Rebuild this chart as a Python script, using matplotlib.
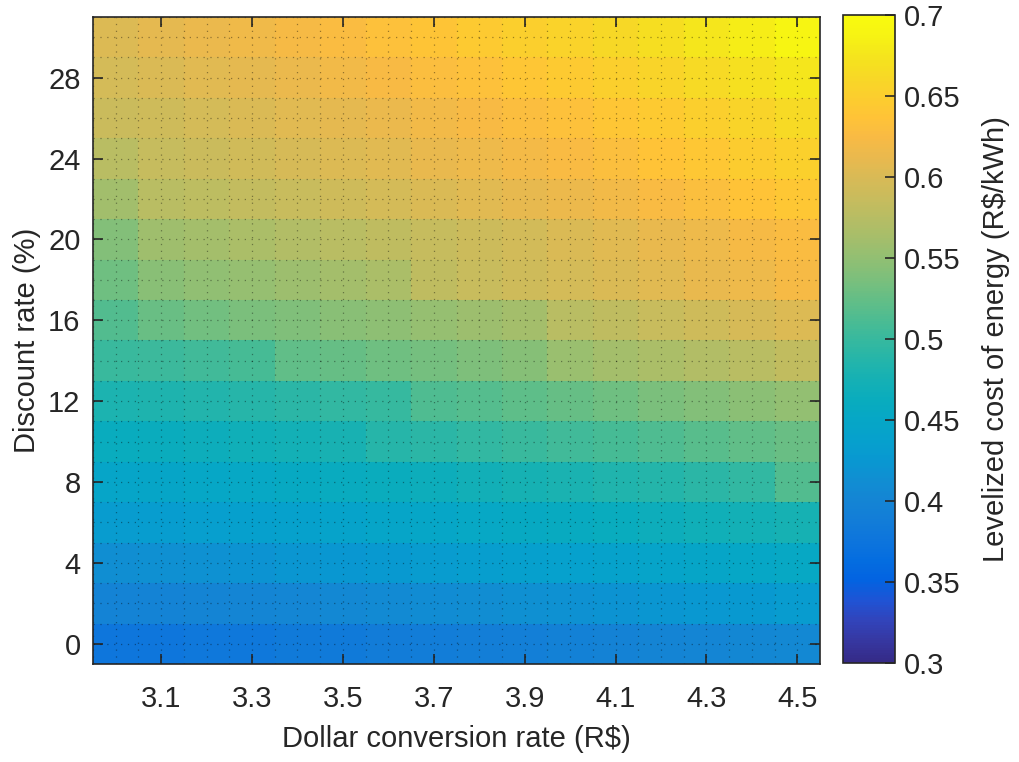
import numpy as np
import matplotlib
matplotlib.use("Agg")
import matplotlib.pyplot as plt
from matplotlib.colors import LinearSegmentedColormap

# dollar conversion rate (R$) and discount rate (%) at the cell centres
dollar_rate = [3.0, 3.1, 3.2, 3.3, 3.4, 3.5, 3.6, 3.7, 3.8, 3.9, 4.0, 4.1, 4.2, 4.3, 4.4, 4.5]
discount_rate = [0, 2, 4, 6, 8, 10, 12, 14, 16, 18, 20, 22, 24, 26, 28, 30]

# levelized cost of energy (R$/kWh), one row per discount rate
lcoe_d0 = [0.378, 0.378, 0.380, 0.380, 0.383, 0.384, 0.386, 0.388, 0.390, 0.392, 0.394, 0.396, 0.399, 0.401, 0.404, 0.406]
lcoe_d2 = [0.397, 0.397, 0.399, 0.400, 0.403, 0.405, 0.407, 0.410, 0.412, 0.415, 0.417, 0.420, 0.422, 0.425, 0.428, 0.430]
lcoe_d4 = [0.414, 0.415, 0.417, 0.419, 0.422, 0.424, 0.427, 0.430, 0.433, 0.436, 0.439, 0.442, 0.445, 0.448, 0.451, 0.454]
lcoe_d6 = [0.431, 0.432, 0.435, 0.437, 0.440, 0.443, 0.446, 0.449, 0.452, 0.456, 0.459, 0.462, 0.466, 0.469, 0.473, 0.476]
lcoe_d8 = [0.446, 0.447, 0.450, 0.453, 0.456, 0.460, 0.463, 0.467, 0.471, 0.475, 0.479, 0.483, 0.487, 0.491, 0.496, 0.515]
lcoe_d10 = [0.462, 0.464, 0.467, 0.470, 0.473, 0.477, 0.488, 0.492, 0.496, 0.500, 0.505, 0.509, 0.514, 0.518, 0.523, 0.528]
lcoe_d12 = [0.480, 0.482, 0.485, 0.488, 0.492, 0.496, 0.499, 0.513, 0.517, 0.521, 0.526, 0.531, 0.536, 0.541, 0.546, 0.551]
lcoe_d14 = [0.500, 0.502, 0.505, 0.508, 0.522, 0.526, 0.530, 0.534, 0.538, 0.543, 0.556, 0.561, 0.566, 0.571, 0.576, 0.582]
lcoe_d16 = [0.515, 0.528, 0.532, 0.536, 0.540, 0.544, 0.548, 0.552, 0.557, 0.562, 0.576, 0.581, 0.586, 0.592, 0.597, 0.603]
lcoe_d18 = [0.530, 0.545, 0.549, 0.553, 0.557, 0.561, 0.566, 0.581, 0.586, 0.591, 0.596, 0.601, 0.606, 0.612, 0.617, 0.623]
lcoe_d20 = [0.542, 0.558, 0.562, 0.566, 0.571, 0.575, 0.580, 0.585, 0.590, 0.595, 0.600, 0.605, 0.611, 0.616, 0.622, 0.628]
lcoe_d22 = [0.560, 0.575, 0.579, 0.583, 0.587, 0.591, 0.596, 0.600, 0.605, 0.610, 0.615, 0.620, 0.625, 0.631, 0.636, 0.642]
lcoe_d24 = [0.575, 0.585, 0.589, 0.593, 0.597, 0.602, 0.606, 0.611, 0.616, 0.621, 0.626, 0.631, 0.637, 0.642, 0.648, 0.653]
lcoe_d26 = [0.588, 0.592, 0.596, 0.600, 0.605, 0.609, 0.614, 0.619, 0.624, 0.629, 0.634, 0.640, 0.645, 0.651, 0.657, 0.663]
lcoe_d28 = [0.596, 0.600, 0.605, 0.609, 0.614, 0.619, 0.624, 0.629, 0.634, 0.640, 0.645, 0.651, 0.657, 0.663, 0.669, 0.675]
lcoe_d30 = [0.603, 0.608, 0.613, 0.618, 0.623, 0.628, 0.633, 0.639, 0.644, 0.650, 0.656, 0.662, 0.668, 0.675, 0.682, 0.690]

lcoe = np.array([lcoe_d0, lcoe_d2, lcoe_d4, lcoe_d6, lcoe_d8, lcoe_d10, lcoe_d12, lcoe_d14,
                 lcoe_d16, lcoe_d18, lcoe_d20, lcoe_d22, lcoe_d24, lcoe_d26, lcoe_d28, lcoe_d30])

cbar_ticks = [0.3, 0.35, 0.4, 0.45, 0.5, 0.55, 0.6, 0.65, 0.7]
cbar_labels = ['0.3', '0.35', '0.4', '0.45', '0.5', '0.55', '0.6', '0.65', '0.7']

# parula-like colormap
parula_pts = [
    (0.2081, 0.1663, 0.5292), (0.2123, 0.2138, 0.6270), (0.1959, 0.2645, 0.7279),
    (0.1253, 0.3242, 0.8303), (0.0117, 0.3875, 0.8820), (0.0165, 0.4266, 0.8786),
    (0.0498, 0.4586, 0.8641), (0.0723, 0.4887, 0.8467), (0.0793, 0.5200, 0.8312),
    (0.0641, 0.5570, 0.8240), (0.0343, 0.5966, 0.8199), (0.0239, 0.6287, 0.8038),
    (0.0228, 0.6535, 0.7768), (0.0384, 0.6743, 0.7436), (0.0843, 0.6928, 0.7062),
    (0.1453, 0.7098, 0.6646), (0.2178, 0.7250, 0.6193), (0.3022, 0.7376, 0.5712),
    (0.3953, 0.7459, 0.5244), (0.4871, 0.7491, 0.4840), (0.5709, 0.7485, 0.4494),
    (0.6473, 0.7456, 0.4188), (0.7184, 0.7411, 0.3905), (0.7858, 0.7356, 0.3633),
    (0.8507, 0.7299, 0.3360), (0.9139, 0.7258, 0.3063), (0.9739, 0.7314, 0.2666),
    (0.9990, 0.7653, 0.2164), (0.9880, 0.8066, 0.1794), (0.9697, 0.8481, 0.1475),
    (0.9589, 0.8949, 0.1132), (0.9661, 0.9514, 0.0755), (0.9763, 0.9831, 0.0538),
]
parula = LinearSegmentedColormap.from_list("parula", parula_pts, N=256)

plt.rcParams['font.family'] = ['Liberation Sans', 'DejaVu Sans']
txt = '#262626'
fs = 21

fig = plt.figure(figsize=(10.2, 7.62), dpi=100)
ax = fig.add_axes([0.0912, 0.1286, 0.7127, 0.8491])
cax = fig.add_axes([0.8265, 0.1300, 0.0510, 0.8504])

mesh = ax.pcolormesh(dollar_rate, discount_rate, lcoe, cmap=parula,
                     vmin=0.3, vmax=0.7, shading='nearest')

# dotted grid over the cells
for gx in np.arange(2.95, 4.56, 0.05):
    ax.axvline(gx, color='k', lw=0.9, alpha=0.38, linestyle=(0, (1, 4.5)), zorder=2)
for gy in range(-1, 32):
    ax.axhline(gy, color='k', lw=0.9, alpha=0.38, linestyle=(0, (1, 4.5)), zorder=2)

ax.set_xlim(2.95, 4.55)
ax.set_ylim(-1, 31)
ax.set_xticks([3.1, 3.3, 3.5, 3.7, 3.9, 4.1, 4.3, 4.5])
ax.set_yticks([0, 4, 8, 12, 16, 20, 24, 28])
ax.tick_params(direction='in', length=7, width=1.2, top=True, right=True,
               labelsize=fs, colors=txt, labelcolor=txt)
ax.tick_params(axis='x', pad=15)
ax.tick_params(axis='y', pad=9)
for s in ax.spines.values():
    s.set_color(txt)
    s.set_linewidth(1.2)
ax.set_xlabel('Dollar conversion rate (R\\$)', fontsize=fs, color=txt, labelpad=9)
ax.set_ylabel('Discount rate (%)', fontsize=fs, color=txt, labelpad=5)

cb = fig.colorbar(mesh, cax=cax)
cb.set_ticks(cbar_ticks)
cb.set_ticklabels(cbar_labels)
cax.tick_params(direction='in', length=7, width=1.2, labelsize=fs, colors=txt,
                labelcolor=txt, pad=6)
cb.outline.set_edgecolor(txt)
cb.outline.set_linewidth(1.2)
cb.set_label('Levelized cost of energy (R\\$/kWh)', fontsize=fs, color=txt, labelpad=16)

fig.savefig('out.png', dpi=100)
